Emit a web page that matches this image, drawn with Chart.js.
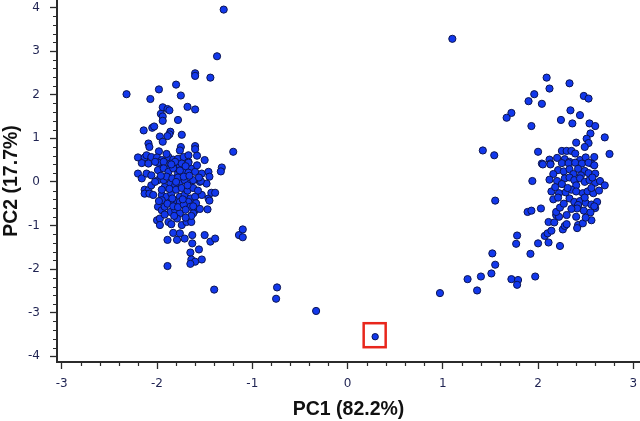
<!DOCTYPE html>
<html>
<head>
<meta charset="utf-8">
<script src="https://cdn.jsdelivr.net/npm/chart.js@4"></script>
<style>
  html, body { margin: 0; padding: 0; background: #fff; }
  #wrap { width: 640px; height: 421px; position: relative; }
</style>
</head>
<body>
<div id="wrap"><canvas id="pcaChart"></canvas></div>
<script>
// PCA scores plot (PC1 vs PC2)

const xTitle = 'PC1 (82.2%)';
const yTitle = 'PC2 (17.7%)';
const xTicks = [-3, -2, -1, 0, 1, 2, 3];
const yTicks = [-4, -3, -2, -1, 0, 1, 2, 3, 4];

// left group of samples [PC1, PC2]
const leftGroup = [
  [-1.30,3.95], [-1.37,2.88], [-1.44,2.39], [-1.60,2.49], [-1.60,2.43], [-2.32,2.01], [-1.98,2.12], [-1.80,2.23],
  [-2.07,1.90], [-1.75,1.98], [-1.94,1.71], [-1.89,1.67], [-1.87,1.64], [-1.68,1.72], [-1.60,1.66], [-1.96,1.56],
  [-1.94,1.50], [-1.94,1.40], [-1.78,1.42], [-2.14,1.18], [-2.05,1.24], [-2.03,1.27], [-1.86,1.15], [-1.87,1.09],
  [-1.89,1.05], [-1.74,1.08], [-1.97,1.04], [-1.94,0.92], [-2.09,0.88], [-2.08,0.80], [-1.75,0.80], [-1.76,0.72],
  [-1.60,0.82], [-1.60,0.75], [-1.20,0.69], [-1.98,0.70],
  [-2.20,0.56], [-2.13,0.56], [-2.11,0.61], [-2.06,0.57], [-2.00,0.56], [-1.95,0.50], [-1.88,0.57], [-1.83,0.51],
  [-1.78,0.53], [-1.72,0.57], [-1.67,0.61], [-1.67,0.46], [-1.50,0.50], [-1.32,0.33], [-1.33,0.24], [-1.95,0.34],
  [-1.88,0.30], [-1.81,0.34], [-1.76,0.36], [-1.64,0.30],
  [-2.16,0.43], [-2.09,0.42], [-1.99,0.44], [-1.93,0.46], [-1.86,0.42], [-1.81,0.46], [-1.74,0.42], [-1.67,0.44],
  [-2.20,0.19], [-2.16,0.08], [-2.11,0.19], [-2.06,0.15], [-1.99,0.27], [-1.93,0.31], [-1.88,0.23], [-1.83,0.31],
  [-1.78,0.19], [-1.72,0.27], [-1.67,0.21], [-1.60,0.23], [-1.53,0.19], [-1.46,0.23], [-1.45,0.12],
  [-2.13,-0.18], [-2.09,-0.19], [-2.06,-0.08], [-1.99,0.04], [-1.93,0.04], [-1.86,-0.04], [-1.81,-0.08], [-1.76,0.00],
  [-1.71,0.04], [-1.65,-0.04], [-1.62,0.04], [-1.55,0.00], [-1.48,-0.04], [-1.54,0.02],
  [-2.13,-0.27], [-2.08,-0.27], [-1.95,-0.30], [-1.90,-0.34], [-1.85,-0.27], [-1.81,-0.42], [-1.76,-0.34], [-1.71,-0.30],
  [-1.65,-0.38], [-1.60,-0.34], [-1.53,-0.30], [-1.46,-0.38], [-1.43,-0.25], [-1.39,-0.25], [-1.95,-0.42], [-1.86,-0.46],
  [-1.76,-0.46], [-1.67,-0.46], [-1.59,-0.49], [-1.45,-0.43],
  [-1.99,-0.57], [-1.95,-0.65], [-1.92,-0.57], [-1.86,-0.69], [-1.81,-0.65], [-1.76,-0.72], [-1.65,-0.57], [-1.60,-0.65],
  [-1.62,-0.72], [-1.47,-0.63],
  [-2.00,-0.88], [-1.97,-0.84], [-1.97,-0.99], [-1.88,-0.92], [-1.85,-0.97], [-1.79,-0.84], [-1.74,-0.99], [-1.69,-0.92],
  [-1.64,-0.92],
  [-1.83,-1.17], [-1.79,-1.33], [-1.76,-1.18], [-1.71,-1.30], [-1.63,-1.22], [-1.63,-1.41], [-1.50,-1.22], [-1.44,-1.37],
  [-1.39,-1.30], [-1.89,-1.33], [-1.14,-1.22], [-1.10,-1.09], [-1.10,-1.27],
  [-1.65,-1.62], [-1.56,-1.55], [-1.64,-1.78], [-1.60,-1.83], [-1.53,-1.78], [-1.65,-1.88], [-1.89,-1.93],
  [-1.40,-2.47], [-0.74,-2.42], [-0.75,-2.68], [-0.33,-2.96],
  [-1.90,0.12], [-1.84,0.08], [-1.78,0.10], [-1.72,0.12], [-1.66,0.14], [-1.92,-0.12], [-1.87,-0.16], [-1.80,-0.18],
  [-1.74,-0.14], [-1.68,-0.20], [-1.62,-0.14], [-1.57,-0.20], [-1.89,-0.50], [-1.83,-0.56], [-1.78,-0.58], [-1.72,-0.52],
  [-1.70,-0.64], [-1.64,-0.78], [-1.82,-0.78], [-1.92,-0.75], [-1.76,0.26], [-1.70,0.36], [-1.85,0.40], [-1.96,0.14],
  [-2.02,0.00], [-2.04,-0.30], [-1.58,0.38], [-1.56,0.10], [-1.68,-0.08], [-1.84,-0.38], [-1.73,-0.40], [-1.98,-0.44],
  [-1.80,0.00], [-1.95,-0.18], [-1.62,-0.56], [-1.55,-0.62], [-1.70,-0.82], [-1.90,0.64], [-2.02,0.46], [-1.58,0.60]
];

// right group of samples [PC1, PC2]
const rightGroup = [
  [0.97,-2.55], [1.26,-2.23], [1.36,-2.49], [1.40,-2.17], [1.51,-2.10], [1.55,-1.90], [1.52,-1.64], [1.72,-2.23],
  [1.79,-2.25], [1.78,-2.36], [1.77,-1.42], [1.78,-1.23], [1.97,-2.17], [1.92,-1.65], [2.00,-1.41], [2.11,-1.39],
  [2.23,-1.47], [1.89,-0.69], [1.93,-0.66], [2.03,-0.61], [2.07,-1.24], [2.10,-1.18], [2.14,-1.12], [2.11,-0.92],
  [2.17,-0.93], [2.19,-0.76], [2.22,-0.80], [2.19,-0.69], [2.23,-0.59], [2.26,-1.09], [2.28,-1.01], [2.30,-0.97],
  [2.42,-0.99], [2.41,-1.06], [2.47,-0.95], [2.56,-0.88], [1.55,-0.43],
  [1.10,3.28], [2.09,2.39], [2.33,2.26], [2.12,2.14], [1.96,2.01], [1.90,1.85], [2.04,1.79], [2.48,1.97],
  [2.53,1.91], [1.72,1.58], [1.67,1.47], [2.34,1.64], [2.44,1.53], [2.24,1.42], [2.36,1.34], [1.93,1.28],
  [2.54,1.34], [2.60,1.28], [2.55,1.11], [2.51,0.99], [2.70,1.02], [1.42,0.72], [1.54,0.61], [2.00,0.69],
  [2.40,0.90], [2.53,0.89], [2.49,0.80], [2.75,0.64], [2.04,0.42], [2.12,0.51], [2.13,0.42], [2.25,0.71],
  [2.30,0.71], [2.35,0.71], [2.39,0.65], [2.59,0.57], [2.56,0.42], [1.94,0.02], [2.05,0.40], [2.13,0.40],
  [2.20,0.55], [2.28,0.52], [2.44,0.50], [2.50,0.56], [2.33,0.46],
  [2.25,0.43], [2.32,0.43], [2.39,0.44], [2.46,0.42], [2.53,0.44], [2.59,0.38],
  [2.21,0.27], [2.27,0.24], [2.33,0.29], [2.42,0.30], [2.49,0.25], [2.53,0.20], [2.60,0.19], [2.16,0.18],
  [2.37,0.18], [2.45,0.15],
  [2.12,0.05], [2.20,0.02], [2.28,0.08], [2.33,0.10], [2.38,0.04], [2.44,0.08], [2.49,0.00], [2.54,0.04],
  [2.60,-0.02], [2.65,0.02], [2.70,-0.08], [2.25,-0.05], [2.40,-0.08], [2.57,0.10],
  [2.14,-0.22], [2.22,-0.26], [2.29,-0.24], [2.35,-0.18], [2.40,-0.22], [2.47,-0.26], [2.52,-0.22], [2.58,-0.26],
  [2.64,-0.20], [2.18,-0.12], [2.31,-0.14], [2.56,-0.14],
  [2.16,-0.40], [2.21,-0.36], [2.33,-0.38], [2.38,-0.46], [2.44,-0.44], [2.50,-0.48], [2.56,-0.52], [2.62,-0.46],
  [2.42,-0.56], [2.27,-0.50], [2.49,-0.36], [2.60,-0.60], [2.42,-0.53], [2.41,-0.61], [2.59,-0.56],
  [2.35,-0.62], [2.48,-0.66], [2.55,-0.70], [2.30,-0.76], [2.40,-0.80], [2.50,-0.82]
];

// sample marked with the red box
const markedSample = [[0.29, -3.55]];

const toPoints = (rows) => rows.map(([x, y]) => ({ x, y }));

const pointFill = '#1238ec';
const pointEdge = '#0b1450';
const axisColor = '#2b2b2b';
const tickLabelColor = '#1f2352';

// minor ticks every 0.2 + red box around the marked sample
const extrasPlugin = {
  id: 'extras',
  afterDraw(chart) {
    const { ctx } = chart;
    const xs = chart.scales.x;
    const ys = chart.scales.y;
    ctx.save();
    ctx.strokeStyle = axisColor;
    ctx.lineWidth = 1.2;
    ctx.beginPath();
    for (let i = -15; i <= 15; i++) {
      if (i % 5 === 0) continue;
      const px = Math.round(xs.getPixelForValue(i / 5)) + 0.5;
      ctx.moveTo(px, xs.top);
      ctx.lineTo(px, xs.top + 4);
    }
    for (let i = -20; i <= 20; i++) {
      if (i % 5 === 0) continue;
      const py = Math.round(ys.getPixelForValue(i / 5)) + 0.5;
      ctx.moveTo(ys.right, py);
      ctx.lineTo(ys.right - 4, py);
    }
    ctx.stroke();

    const pt = chart.getDatasetMeta(2).data[0];
    if (pt) {
      ctx.strokeStyle = '#e8261c';
      ctx.lineWidth = 2.5;
      ctx.strokeRect(pt.x - 11.5, pt.y - 13.5, 22, 24);
    }
    ctx.restore();
  }
};

const pointStyle = {
  backgroundColor: pointFill,
  borderColor: pointEdge,
  borderWidth: 1,
  pointRadius: 3.6,
  pointHoverRadius: 3.6
};

new Chart(document.getElementById('pcaChart'), {
  type: 'scatter',
  data: {
    datasets: [
      { label: 'group A', data: toPoints(leftGroup), ...pointStyle },
      { label: 'group B', data: toPoints(rightGroup), ...pointStyle },
      { label: 'marked', data: toPoints(markedSample), ...pointStyle, pointRadius: 3.2 }
    ]
  },
  options: {
    responsive: true,
    maintainAspectRatio: false,
    animation: false,
    layout: { padding: 0, autoPadding: false },
    plugins: {
      legend: { display: false },
      tooltip: { enabled: false }
    },
    scales: {
      x: {
        type: 'linear',
        min: -3.05,
        max: 3.07,
        afterBuildTicks: (scale) => { scale.ticks = xTicks.map(v => ({ value: v })); },
        afterFit: (scale) => {
          scale.height = 59;
          scale.paddingLeft = 0;
          scale.paddingRight = 0;
        },
        border: { display: true, color: axisColor, width: 2 },
        grid: { drawOnChartArea: false, drawTicks: true, tickLength: 7, tickColor: axisColor, tickWidth: 1.3 },
        ticks: {
          color: tickLabelColor,
          padding: 8,
          maxRotation: 0,
          font: { family: 'DejaVu Sans', size: 12 }
        },
        title: {
          display: true,
          text: xTitle,
          color: '#111',
          padding: { top: 0, bottom: 0 },
          font: { family: 'Liberation Sans', size: 19.5, weight: 'bold' }
        }
      },
      y: {
        type: 'linear',
        min: -4.13,
        max: 4.17,
        afterBuildTicks: (scale) => { scale.ticks = yTicks.map(v => ({ value: v })); },
        afterFit: (scale) => {
          scale.width = 57;
          scale.paddingTop = 0;
          scale.paddingBottom = 0;
        },
        border: { display: true, color: axisColor, width: 2 },
        grid: { drawOnChartArea: false, drawTicks: true, tickLength: 7, tickColor: axisColor, tickWidth: 1.3 },
        ticks: {
          color: tickLabelColor,
          padding: 10,
          font: { family: 'DejaVu Sans', size: 12 }
        },
        title: {
          display: true,
          text: yTitle,
          color: '#111',
          padding: { top: 0, bottom: 0 },
          font: { family: 'Liberation Sans', size: 19.5, weight: 'bold' }
        }
      }
    }
  },
  plugins: [extrasPlugin]
});
</script>
</body>
</html>
